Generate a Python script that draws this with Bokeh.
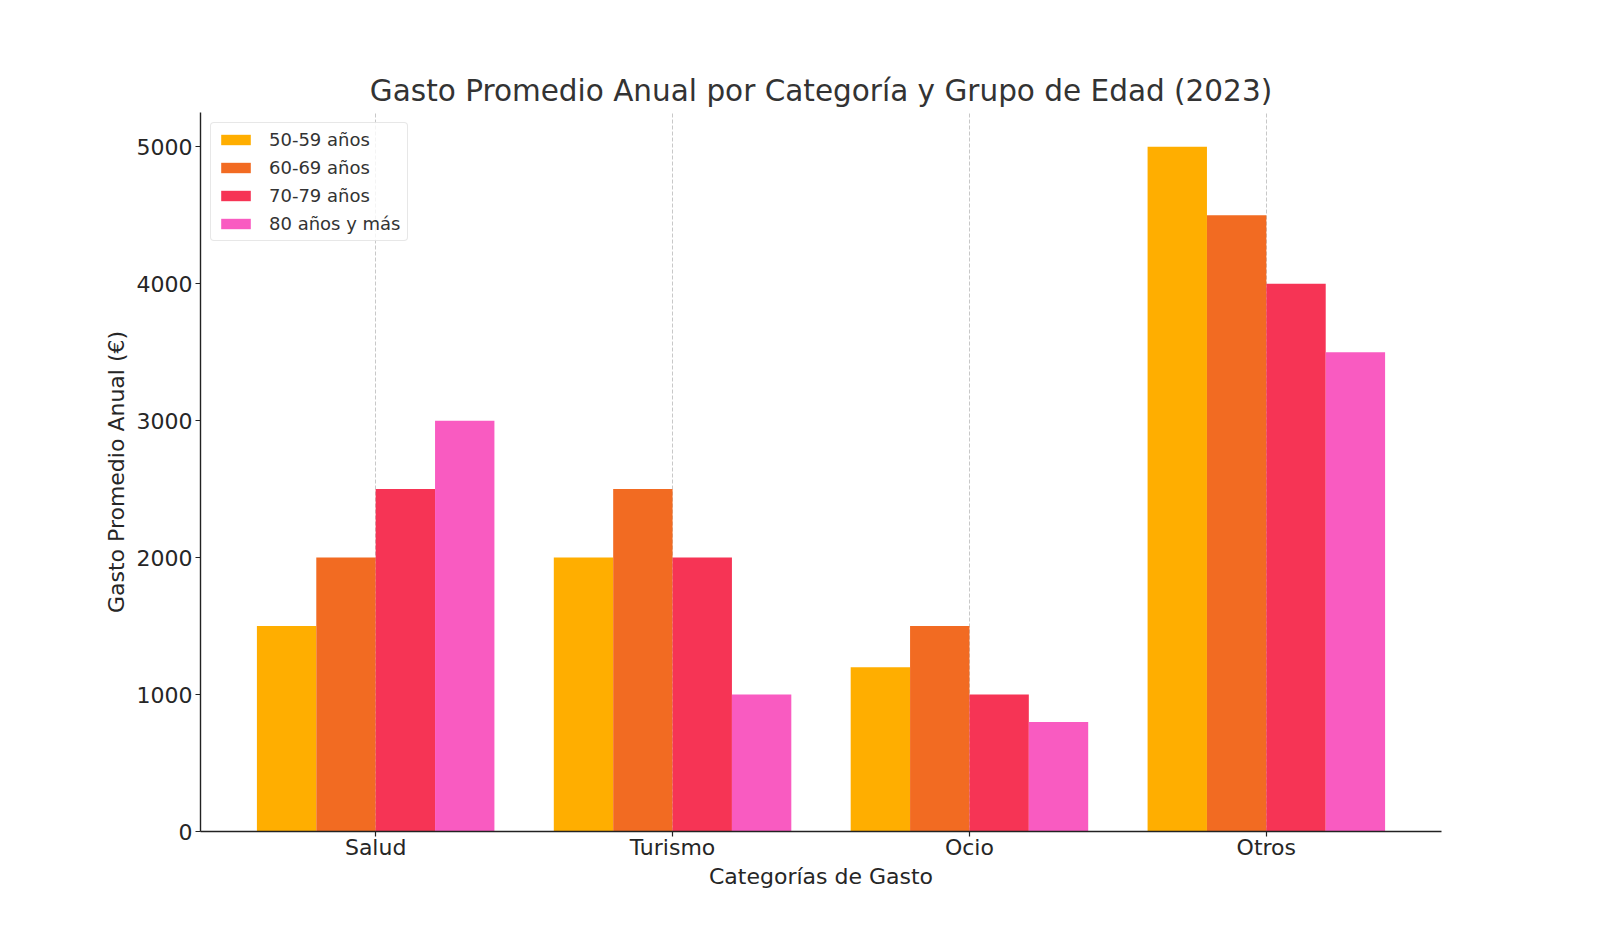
from bokeh.plotting import figure
from bokeh.models import ColumnDataSource, FactorRange, FixedTicker, Range1d
from bokeh.transform import dodge
from bokeh.embed import file_html
from bokeh.resources import INLINE

categories = ["Salud", "Turismo", "Ocio", "Otros"]
groups = ["50-59 años", "60-69 años", "70-79 años", "80 años y más"]
v_50_59 = [1500, 2000, 1200, 5000]
v_60_69 = [2000, 2500, 1500, 4500]
v_70_79 = [2500, 2000, 1000, 4000]
v_80 = [3000, 1000, 800, 3500]
colors = ["#FFAE00", "#F26B22", "#F63455", "#F95BC1"]
y_ticks = [0, 1000, 2000, 3000, 4000, 5000]

source = ColumnDataSource(data=dict(cat=categories, a=v_50_59, b=v_60_69, c=v_70_79, d=v_80))

FONT = "DejaVu Sans"
p = figure(width=1600, height=930, output_backend="svg", toolbar_location=None,
           x_range=FactorRange(*categories, range_padding=0.09, range_padding_units="absolute"),
           y_range=Range1d(0, 5250),
           title="Gasto Promedio Anual por Categoría y Grupo de Edad (2023)",
           min_border_left=200, min_border_right=159, min_border_top=112, min_border_bottom=99)

offsets = [-0.3, -0.1, 0.1, 0.3]
for key, off, col, name in zip(["a", "b", "c", "d"], offsets, colors, groups):
    p.vbar(x=dodge("cat", off, range=p.x_range), top=key, width=0.2, source=source,
           fill_color=col, line_color=None, legend_label=name)

p.outline_line_color = None
p.background_fill_color = "white"
p.border_fill_color = "white"

p.title.align = "center"
p.title.text_font = FONT
p.title.text_font_size = "29.5px"
p.title.text_font_style = "normal"
p.title.text_color = "#333333"
p.title.standoff = 9

p.ygrid.grid_line_color = None
p.xgrid.grid_line_color = "#c8c8c8"
p.xgrid.grid_line_dash = "4 2"
p.xgrid.grid_line_width = 1

for ax in (p.xaxis[0], p.yaxis[0]):
    ax.axis_line_color = "#222222"
    ax.axis_line_width = 1.4
    ax.major_tick_line_color = "#222222"
    ax.major_tick_line_width = 1.2
    ax.major_tick_out = 5
    ax.major_tick_in = 0
    ax.minor_tick_line_color = None
    ax.major_label_text_font = FONT
    ax.major_label_text_font_size = "22px"
    ax.major_label_text_color = "#262626"
    ax.axis_label_text_font = FONT
    ax.axis_label_text_font_size = "22px"
    ax.axis_label_text_font_style = "normal"
    ax.axis_label_text_color = "#262626"

p.xaxis.axis_label = "Categorías de Gasto"
p.yaxis.axis_label = "Gasto Promedio Anual (€)"
p.yaxis.ticker = FixedTicker(ticks=y_ticks)
p.xaxis.major_label_standoff = -2
p.yaxis.major_label_standoff = 3
p.xaxis.axis_label_standoff = 1
p.yaxis.axis_label_standoff = 5

lg = p.legend[0]
lg.location = "top_left"
lg.margin = 10
lg.padding = 6
lg.spacing = 7
lg.glyph_width = 37
lg.glyph_height = 13
lg.label_height = 20
lg.label_standoff = 15
lg.label_text_font = FONT
lg.label_text_font_size = "18px"
lg.label_text_color = "#333333"
lg.border_line_color = "#d0d0d0"
lg.border_line_width = 1
lg.background_fill_alpha = 0.8
try:
    lg.border_radius = 4
except Exception:
    pass

open("out.html", "w").write(file_html(p, INLINE))
